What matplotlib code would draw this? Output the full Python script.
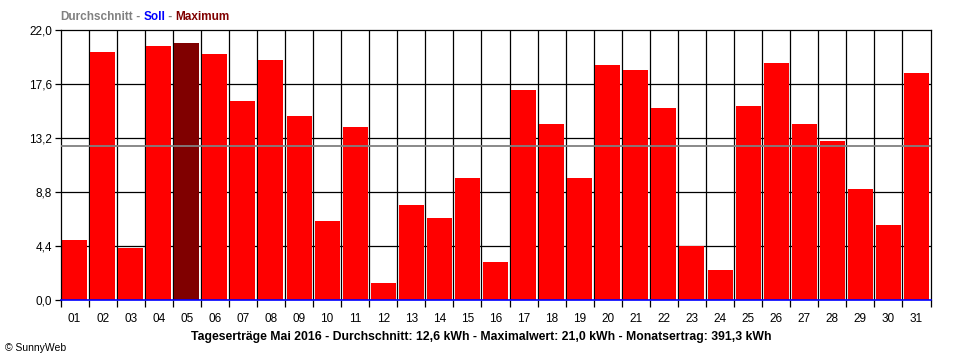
import matplotlib
matplotlib.use("Agg")
import matplotlib.pyplot as plt
import numpy as np

days = ["%02d" % d for d in range(1, 32)]
yields_kwh = [4.9, 20.2, 4.3, 20.7, 21.0, 20.1, 16.2, 19.6, 15.0, 6.5,
              14.1, 1.4, 7.8, 6.7, 10.0, 3.1, 17.1, 14.4, 10.0, 19.2,
              18.8, 15.7, 4.4, 2.5, 15.8, 19.3, 14.4, 13.0, 9.1, 6.1, 18.5]
average_kwh = 12.6
y_ticks = [0.0, 4.4, 8.8, 13.2, 17.6, 22.0]
y_tick_labels = ["0,0", "4,4", "8,8", "13,2", "17,6", "22,0"]
bottom_title = ("Tageserträge Mai 2016 - Durchschnitt: 12,6 kWh - "
                "Maximalwert: 21,0 kWh - Monatsertrag: 391,3 kWh")

plt.rcParams['font.family'] = ['Liberation Sans', 'DejaVu Sans']

fig = plt.figure(figsize=(9.6, 3.6), dpi=100)
ax = fig.add_axes([60.5 / 960, 1 - 300.3 / 360, 870 / 960, 270 / 360])

x = np.arange(1, len(yields_kwh) + 1)
imax = int(np.argmax(yields_kwh))
colors = ["#FF0000"] * len(yields_kwh)
colors[imax] = "#800000"

ax.bar(x, yields_kwh, width=0.89, color=colors, zorder=2)
ax.axhline(average_kwh, color="#808080", lw=1.3, zorder=3)

ax.set_xlim(0.5, len(yields_kwh) + 0.5)
ax.set_ylim(0, 22.0)

# grid
for b in np.arange(1.5, len(yields_kwh), 1.0):
    ax.axvline(b, color="black", lw=0.9, zorder=1)
for t in y_ticks[1:-1]:
    ax.axhline(t, color="black", lw=0.9, zorder=1)

ax.set_yticks(y_ticks)
ax.set_yticklabels(y_tick_labels, fontsize=8.5)
ax.tick_params(axis="y", length=4, width=0.9, pad=2, direction="out")

ax.set_xticks(np.arange(0.5, len(yields_kwh) + 1, 1.0))
ax.set_xticklabels([])
ax.set_xticks(x, minor=True)
ax.set_xticklabels(days, minor=True, fontsize=8.5)
ax.tick_params(axis="x", which="major", length=5, width=0.9, direction="out")
ax.tick_params(axis="x", which="minor", length=0, pad=9)

for s in ["left", "top", "right"]:
    ax.spines[s].set_color("black")
    ax.spines[s].set_linewidth(0.9)
ax.spines["bottom"].set_color("#0000FF")
ax.spines["bottom"].set_linewidth(1.2)
ax.spines["bottom"].set_zorder(4)

# top legend-like title with colored words
t1 = fig.text(60 / 960, 1 - 17 / 360, "Durchschnitt", color="#808080",
              fontsize=8.5, fontweight="bold", va="center", ha="left")
t2 = ax.annotate(" - ", xy=(1, 0), xycoords=t1, va="bottom", ha="left",
                 color="#808080", fontsize=8.5, fontweight="bold")
t3 = ax.annotate("Soll", xy=(1, 0), xycoords=t2, va="bottom", ha="left",
                 color="#0000FF", fontsize=8.5, fontweight="bold")
t4 = ax.annotate(" - ", xy=(1, 0), xycoords=t3, va="bottom", ha="left",
                 color="#808080", fontsize=8.5, fontweight="bold")
t5 = ax.annotate("Maximum", xy=(1, 0), xycoords=t4, va="bottom", ha="left",
                 color="#800000", fontsize=8.5, fontweight="bold")

fig.text(481 / 960, 1 - 337 / 360, bottom_title, fontsize=8.8,
         fontweight="bold", ha="center", va="center", color="black")
fig.text(5 / 960, 1 - 348 / 360, "© SunnyWeb", fontsize=7.5,
         ha="left", va="center", color="black")

fig.savefig("out.png", dpi=100, facecolor="white")
